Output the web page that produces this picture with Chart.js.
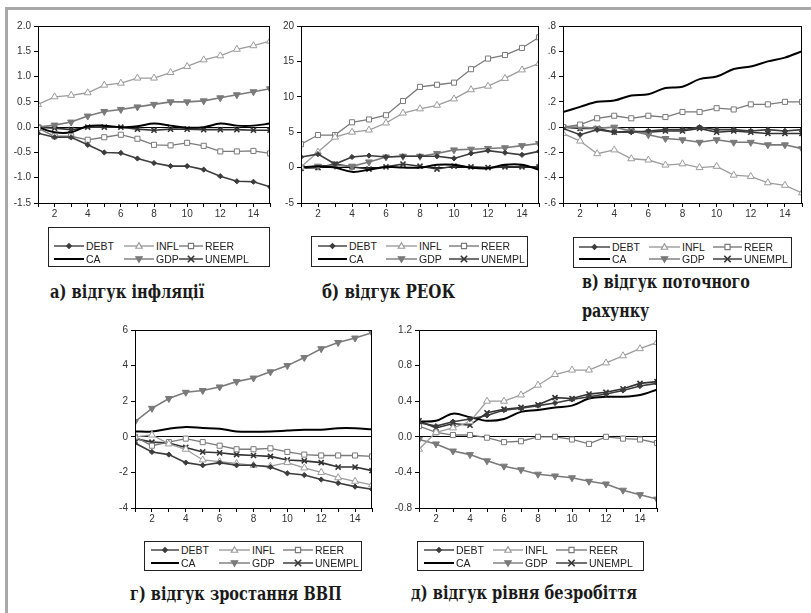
<!DOCTYPE html>
<html>
<head>
<meta charset="utf-8">
<script src="https://cdn.jsdelivr.net/npm/chart.js@4.4.0/dist/chart.umd.min.js"></script>
<style>
  html, body { margin: 0; padding: 0; background: #fff; }
  body { width: 811px; height: 613px; position: relative; overflow: hidden; font-family: Arial, "Liberation Sans", sans-serif; }
  .frame { position: absolute; left: 5px; top: 7px; width: 900px; height: 700px; border-left: 3px solid #a8a8a8; border-top: 3px solid #a8a8a8; }
  .panel { position: absolute; }
  .legend { position: absolute; border: 1px solid #222; box-sizing: border-box; background: #fff; }
  .legend .item { position: absolute; display: flex; align-items: center; font-size: 10.5px; color: #222; white-space: nowrap; }
  .legend canvas { display: block; margin-right: 2px; }
  .caption { position: absolute; font-family: "DejaVu Serif", "Liberation Serif", serif; font-weight: bold; font-size: 19px; color: #1a1a1a; line-height: 29px; white-space: nowrap; transform-origin: 0 0; }
</style>
</head>
<body>
<div class="frame"></div>

<div class="caption" data-w="154" style="left:50px; top:277px;">а) відгук інфляції</div>
<div class="caption" data-w="133" style="left:322px; top:277px;">б) відгук РЕОК</div>
<div class="caption" data-w="168" style="left:582px; top:267px;">в) відгук поточного<br>рахунку</div>
<div class="caption" data-w="212" style="left:130px; top:579px;">г) відгук зростання ВВП</div>
<div class="caption" data-w="226" style="left:411px; top:578px;">д) відгук рівня безробіття</div>

<script>
// ---- data ----
const periods = [1, 2, 3, 4, 5, 6, 7, 8, 9, 10, 11, 12, 13, 14, 15];
const seriesNames = ['DEBT', 'INFL', 'REER', 'CA', 'GDP', 'UNEMPL'];

// а) inflation response
const A_DEBT   = [-0.12, -0.2, -0.2, -0.35, -0.5, -0.51, -0.62, -0.71, -0.77, -0.77, -0.84, -0.97, -1.07, -1.08, -1.18];
const A_INFL   = [0.45, 0.6, 0.63, 0.68, 0.83, 0.87, 0.97, 0.97, 1.08, 1.2, 1.33, 1.41, 1.54, 1.61, 1.7];
const A_REER   = [-0.02, -0.18, -0.18, -0.25, -0.2, -0.15, -0.23, -0.35, -0.36, -0.31, -0.37, -0.48, -0.48, -0.47, -0.52];
const A_CA     = [0.0, -0.1, -0.1, 0.02, 0.03, 0.0, 0.02, 0.07, 0.03, -0.01, 0.0, 0.07, 0.03, 0.03, 0.07];
const A_GDP    = [0.0, 0.04, 0.1, 0.22, 0.31, 0.35, 0.4, 0.45, 0.5, 0.5, 0.52, 0.58, 0.64, 0.7, 0.76];
const A_UNEMPL = [0.0, -0.02, -0.05, 0.0, 0.0, 0.0, -0.04, -0.06, -0.04, -0.04, -0.05, -0.05, -0.05, -0.06, -0.06];

// б) REER response
const B_DEBT   = [1.5, 1.9, 0.5, 1.5, 1.7, 1.5, 1.6, 1.6, 1.6, 1.3, 2.0, 2.4, 2.1, 1.8, 2.3];
const B_INFL   = [0.1, 2.2, 4.3, 5.0, 5.3, 6.3, 7.7, 8.3, 8.8, 9.7, 11.0, 11.5, 12.6, 13.8, 14.7];
const B_REER   = [3.3, 4.6, 4.6, 6.4, 6.8, 7.4, 9.4, 11.4, 11.7, 12.0, 13.9, 15.4, 15.9, 16.9, 18.4];
const B_CA     = [0.0, 0.2, 0.0, -0.6, -0.3, 0.1, 0.0, 0.0, 0.4, 0.4, 0.0, -0.1, 0.4, 0.4, -0.3];
const B_GDP    = [0.0, 0.2, 0.3, 0.2, 0.8, 1.5, 1.6, 1.6, 2.0, 2.5, 2.6, 2.7, 2.8, 3.1, 3.4];
const B_UNEMPL = [-0.1, 0.0, 0.5, 0.1, -0.2, 0.1, 0.5, 0.2, -0.2, 0.2, 0.1, 0.0, 0.1, 0.1, 0.1];

// в) current account response
const C_DEBT   = [-0.01, -0.06, -0.02, -0.04, -0.04, -0.03, -0.02, -0.02, 0.0, -0.02, -0.02, -0.03, -0.02, -0.03, -0.02];
const C_INFL   = [-0.05, -0.11, -0.21, -0.18, -0.25, -0.26, -0.3, -0.29, -0.32, -0.31, -0.38, -0.39, -0.44, -0.46, -0.52];
const C_REER   = [0.0, 0.02, 0.07, 0.09, 0.07, 0.09, 0.08, 0.12, 0.12, 0.15, 0.14, 0.18, 0.18, 0.2, 0.2];
const C_CA     = [0.12, 0.16, 0.2, 0.21, 0.25, 0.26, 0.31, 0.32, 0.38, 0.4, 0.46, 0.48, 0.52, 0.55, 0.6];
const C_GDP    = [0.0, 0.0, -0.01, 0.0, -0.03, -0.06, -0.09, -0.1, -0.12, -0.1, -0.12, -0.12, -0.14, -0.14, -0.17];
const C_UNEMPL = [0.0, -0.01, -0.01, -0.04, -0.03, -0.04, -0.03, -0.03, -0.01, -0.04, -0.03, -0.04, -0.05, -0.05, -0.05];

// г) GDP growth response
const D_DEBT   = [-0.35, -0.85, -1.0, -1.45, -1.6, -1.45, -1.6, -1.6, -1.7, -2.05, -2.15, -2.4, -2.6, -2.8, -2.95];
const D_INFL   = [0.0, 0.1, -0.4, -0.7, -1.3, -1.4, -1.5, -1.6, -1.65, -1.45, -1.75, -2.0, -2.3, -2.5, -2.7];
const D_REER   = [0.0, -0.5, -0.3, -0.1, -0.3, -0.5, -0.7, -0.7, -0.65, -0.85, -1.0, -1.05, -1.05, -1.05, -1.1];
const D_CA     = [0.3, 0.3, 0.45, 0.55, 0.5, 0.45, 0.3, 0.28, 0.3, 0.35, 0.4, 0.4, 0.48, 0.48, 0.42];
const D_GDP    = [0.85, 1.6, 2.15, 2.5, 2.6, 2.8, 3.1, 3.3, 3.65, 4.0, 4.45, 4.95, 5.3, 5.55, 5.85];
const D_UNEMPL = [-0.1, -0.3, -0.35, -0.6, -0.85, -0.9, -1.0, -1.05, -1.1, -1.3, -1.35, -1.45, -1.7, -1.7, -1.9];

// д) unemployment response
const E_DEBT   = [0.16, 0.12, 0.17, 0.2, 0.24, 0.3, 0.32, 0.35, 0.38, 0.42, 0.45, 0.48, 0.52, 0.57, 0.6];
const E_INFL   = [-0.14, 0.05, 0.1, 0.17, 0.4, 0.4, 0.47, 0.58, 0.7, 0.75, 0.75, 0.83, 0.91, 0.99, 1.06];
const E_REER   = [0.12, 0.05, 0.02, 0.02, -0.01, -0.06, -0.05, 0.0, 0.0, -0.03, -0.08, 0.0, -0.02, -0.03, -0.07];
const E_CA     = [0.17, 0.18, 0.26, 0.22, 0.18, 0.2, 0.28, 0.3, 0.33, 0.35, 0.43, 0.45, 0.45, 0.47, 0.53];
const E_GDP    = [-0.03, -0.08, -0.16, -0.2, -0.27, -0.33, -0.37, -0.42, -0.44, -0.46, -0.5, -0.53, -0.6, -0.65, -0.7];
const E_UNEMPL = [0.18, 0.1, 0.15, 0.13, 0.27, 0.31, 0.33, 0.36, 0.44, 0.43, 0.48, 0.5, 0.54, 0.6, 0.62];

// ---- styles ----
const styles = {
    DEBT:   { color: '#3c3c3c', width: 1.6, point: 'rectRot', radius: 2.6, fill: '#3c3c3c' },
    INFL:   { color: '#9c9c9c', width: 1.3, point: 'triangle', radius: 4, fill: '#ffffff' },
    REER:   { color: '#7a7a7a', width: 1.3, point: 'rect', radius: 3.6, fill: '#ffffff' },
    CA:     { color: '#000000', width: 2, point: false, radius: 0, fill: '#000' },
    GDP:    { color: '#7a7a7a', width: 1.6, point: 'triangle', rotation: 180, radius: 4, fill: '#7a7a7a' },
    UNEMPL: { color: '#333333', width: 1.6, point: 'crossRot', radius: 3.6, fill: '#333' }
};

const fmt1 = v => v.toFixed(1);
const fmt0 = v => String(Math.round(v));
const fmtDot = v => (v < -1e-9 ? '-' : '') + Math.abs(v).toFixed(1).replace(/^0/, '');

// plot area rectangles (left, top, right, bottom) in page pixels
const panels = [
    { plot: [38, 25, 270, 203],  min: -1.5, max: 2.0, step: 0.5, fmt: fmt1,  series: [A_DEBT, A_INFL, A_REER, A_CA, A_GDP, A_UNEMPL],
      legend: { box: [48, 227, 222, 40], cols: [5, 75, 130], syms: [30, 30, 24], rows: [18, 31] } },
    { plot: [301, 25, 539, 203], min: -5, max: 20, step: 5, fmt: fmt0,       series: [B_DEBT, B_INFL, B_REER, B_CA, B_GDP, B_UNEMPL],
      legend: { box: [311, 236, 217, 31], cols: [6, 74, 137], syms: [29, 31, 30], rows: [9, 22] } },
    { plot: [563, 25, 802, 203], min: -0.6, max: 0.8, step: 0.2, fmt: fmtDot, series: [C_DEBT, C_INFL, C_REER, C_CA, C_GDP, C_UNEMPL],
      legend: { box: [573, 237, 219, 31], cols: [5, 75, 139], syms: [31, 31, 29], rows: [9, 21] } },
    { plot: [135, 329, 372, 508], min: -4, max: 6, step: 2, fmt: fmt0,        series: [D_DEBT, D_INFL, D_REER, D_CA, D_GDP, D_UNEMPL],
      legend: { box: [144, 541, 218, 30], cols: [6, 74, 138], syms: [28, 31, 30], rows: [8, 21] } },
    { plot: [419, 329, 657, 508], min: -0.8, max: 1.2, step: 0.4, fmt: fmt1, series: [E_DEBT, E_INFL, E_REER, E_CA, E_GDP, E_UNEMPL],
      legend: { box: [417, 541, 227, 30], cols: [6, 75, 138], syms: [30, 30, 31], rows: [8, 21] } }
];

const Y_W = 34, X_H = 22, PAD_T = 8, PAD_R = 8;

const boxFrame = {
    id: 'boxFrame',
    afterDraw(chart) {
        const a = chart.chartArea, ctx = chart.ctx;
        ctx.save();
        ctx.strokeStyle = '#000';
        ctx.lineWidth = 1;
        ctx.strokeRect(Math.round(a.left) + 0.5, Math.round(a.top) + 0.5, Math.round(a.right - a.left) - 1, Math.round(a.bottom - a.top));
        ctx.restore();
    }
};

function drawSymbol(ctx, st, x, y, r) {
    ctx.save();
    ctx.strokeStyle = st.color;
    ctx.fillStyle = st.fill;
    ctx.lineWidth = 1.2;
    ctx.beginPath();
    if (st.point === 'rectRot') {
        ctx.moveTo(x, y - r); ctx.lineTo(x + r, y); ctx.lineTo(x, y + r); ctx.lineTo(x - r, y); ctx.closePath();
        ctx.fill(); ctx.stroke();
    } else if (st.point === 'triangle') {
        const s = st.rotation ? -1 : 1;
        ctx.moveTo(x, y - s * r); ctx.lineTo(x + r, y + s * r * 0.7); ctx.lineTo(x - r, y + s * r * 0.7); ctx.closePath();
        ctx.fill(); ctx.stroke();
    } else if (st.point === 'rect') {
        ctx.rect(x - r * 0.8, y - r * 0.8, r * 1.6, r * 1.6);
        ctx.fill(); ctx.stroke();
    } else if (st.point === 'crossRot') {
        ctx.lineWidth = 1.6;
        ctx.moveTo(x - r, y - r); ctx.lineTo(x + r, y + r);
        ctx.moveTo(x - r, y + r); ctx.lineTo(x + r, y - r);
        ctx.stroke();
    }
    ctx.restore();
}

function makeLegend(lg) {
    const box = document.createElement('div');
    box.className = 'legend';
    box.style.left = lg.box[0] + 'px';
    box.style.top = lg.box[1] + 'px';
    box.style.width = lg.box[2] + 'px';
    box.style.height = lg.box[3] + 'px';
    seriesNames.forEach((name, i) => {
        const col = i % 3, row = Math.floor(i / 3);
        const st = styles[name];
        const item = document.createElement('div');
        item.className = 'item';
        item.style.left = lg.cols[col] + 'px';
        item.style.top = (lg.rows[row] - 7) + 'px';
        item.style.height = '14px';
        const w = lg.syms[col];
        const c = document.createElement('canvas');
        const dpr = window.devicePixelRatio || 1;
        c.width = w * dpr; c.height = 14 * dpr;
        c.style.width = w + 'px'; c.style.height = '14px';
        const ctx = c.getContext('2d');
        ctx.scale(dpr, dpr);
        ctx.strokeStyle = st.color;
        ctx.lineWidth = name === 'CA' ? 2 : 1.4;
        ctx.beginPath(); ctx.moveTo(0, 7); ctx.lineTo(w, 7); ctx.stroke();
        if (st.point) drawSymbol(ctx, st, w / 2, 7, name === 'DEBT' ? 2.4 : 3.2);
        item.appendChild(c);
        const t = document.createElement('span');
        t.textContent = name;
        item.appendChild(t);
        box.appendChild(item);
    });
    document.body.appendChild(box);
}

panels.forEach((p, idx) => {
    const [l, t, r, b] = p.plot;
    const div = document.createElement('div');
    div.className = 'panel';
    div.style.left = (l - Y_W) + 'px';
    div.style.top = (t - PAD_T) + 'px';
    div.style.width = (r - l + Y_W + PAD_R) + 'px';
    div.style.height = (b - t + PAD_T + X_H) + 'px';
    const canvas = document.createElement('canvas');
    div.appendChild(canvas);
    document.body.appendChild(div);

    const datasets = seriesNames.map((name, i) => {
        const st = styles[name];
        return {
            label: name,
            data: periods.map((x, k) => ({ x: x, y: p.series[i][k] })),
            borderColor: st.color,
            borderWidth: st.width,
            backgroundColor: st.fill,
            pointStyle: st.point,
            pointRadius: st.radius,
            pointRotation: st.rotation || 0,
            pointBorderWidth: name === 'UNEMPL' ? 1.6 : 1,
            pointBorderColor: st.color,
            pointBackgroundColor: st.fill,
            tension: name === 'CA' ? 0.35 : 0,
            fill: false
        };
    });

    new Chart(canvas.getContext('2d'), {
        type: 'line',
        data: { datasets },
        options: {
            responsive: true,
            maintainAspectRatio: false,
            animation: false,
            layout: { padding: { top: PAD_T, right: PAD_R, left: 0, bottom: 0 } },
            plugins: { legend: { display: false }, tooltip: { enabled: false } },
            scales: {
                x: {
                    type: 'linear', min: 1, max: 15,
                    afterFit: s => { s.height = X_H; },
                    grid: { drawOnChartArea: false, drawTicks: true, tickLength: 4, tickColor: '#000' },
                    border: { display: true, color: '#000', width: 1 },
                    ticks: {
                        stepSize: 1, autoSkip: false, maxRotation: 0, padding: 1,
                        color: '#333', font: { family: 'Arial', size: 10 },
                        callback: v => (v % 2 === 0 ? String(v) : '')
                    }
                },
                y: {
                    min: p.min, max: p.max,
                    afterFit: s => { s.width = Y_W; },
                    grid: {
                        drawOnChartArea: true, drawTicks: true, tickLength: 4, tickColor: '#000',
                        color: ctx => (ctx.tick && Math.abs(ctx.tick.value) < 1e-9 ? '#000' : 'rgba(0,0,0,0)'),
                        lineWidth: 1
                    },
                    border: { display: true, color: '#000', width: 1 },
                    ticks: {
                        stepSize: p.step, padding: 3, color: '#333',
                        font: { family: 'Arial', size: 10 },
                        callback: v => p.fmt(v)
                    }
                }
            }
        },
        plugins: [boxFrame]
    });

    makeLegend(p.legend);
});

// squeeze captions to the widths seen in the source picture
function fitCaptions() {
    document.querySelectorAll('.caption').forEach(el => {
        el.style.transform = 'none';
        const target = parseFloat(el.dataset.w);
        const w = el.scrollWidth;
        if (w > 0) el.style.transform = 'scaleX(' + (target / w).toFixed(3) + ')';
    });
}
fitCaptions();
if (document.fonts && document.fonts.ready) document.fonts.ready.then(fitCaptions);
</script>
</body>
</html>
